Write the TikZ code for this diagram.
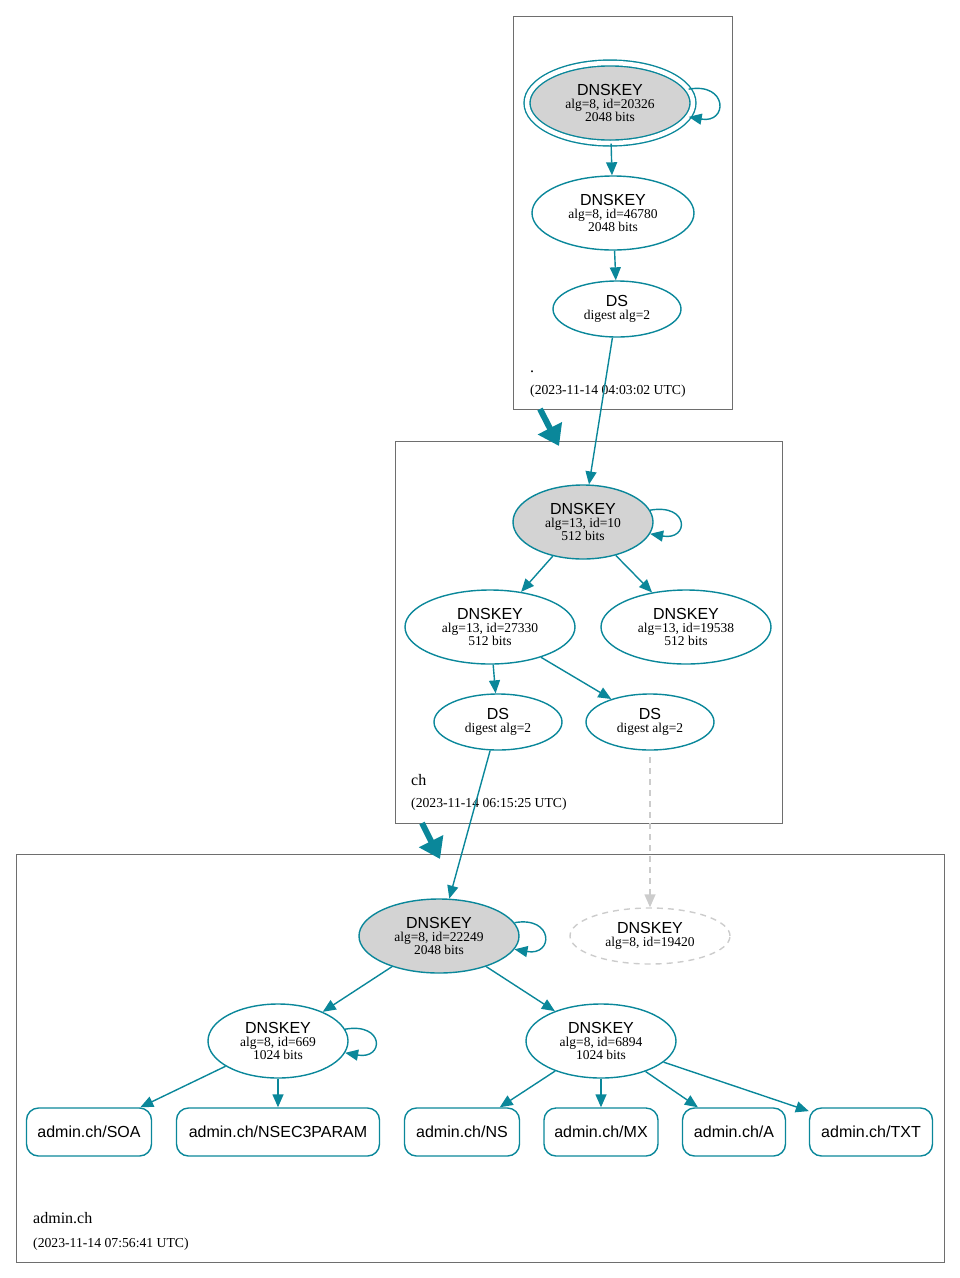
\documentclass[tikz,border=0pt]{standalone}
\usepackage{fontspec}
\setmainfont{Liberation Serif}
\setsansfont{Liberation Sans}
\usetikzlibrary{arrows.meta,shapes.geometric}

\definecolor{dnsteal}{HTML}{0A879A}
\definecolor{keyfill}{HTML}{D3D3D3}
\definecolor{zonegray}{HTML}{6E6E6E}
\definecolor{stalegray}{HTML}{CCCCCC}

\newcommand{\keylabel}[2]{{\sffamily\fontsize{16}{13}\selectfont DNSKEY}\\#1\\#2}
\newcommand{\dslabel}{{\sffamily\fontsize{16}{13}\selectfont DS}\\digest alg=2}

\tikzset{
  key/.style={ellipse, draw=dnsteal, line width=1.4pt, inner sep=0pt,
    align=center, font=\fontsize{13.5}{13}\selectfont},
  ksk/.style={key, fill=keyfill},
  rrset/.style={rectangle, rounded corners=12pt, draw=dnsteal, line width=1.4pt,
    minimum height=48pt, inner xsep=10pt, font=\sffamily\fontsize{16}{16}\selectfont},
  zone/.style={draw=zonegray, line width=0.9pt},
  zonename/.style={anchor=base west, inner sep=0pt, font=\fontsize{16}{16}\selectfont},
  zonedate/.style={anchor=base west, inner sep=0pt, font=\fontsize{13.7}{14}\selectfont},
  keyloop/.style={out=10, in=-10, min distance=40pt},
  stale/.style={draw=stalegray, dashed, dash pattern=on 6pt off 5pt},
  delegation/.style={color=dnsteal, line width=6pt, -{Triangle[length=20pt,width=26pt]}}
}

\begin{document}
\begin{tikzpicture}[x=1pt, y=-1pt, >={Triangle[length=13pt,width=11pt]}]
\useasboundingbox (0,0) rectangle (960,1278);

% zone boxes
\draw[zone] (513,16) rectangle (732,409);
\draw[zone] (395,441) rectangle (782,823);
\draw[zone] (16,854) rectangle (944,1262);

\node[zonename] (rootname) at (530,372) {.};
\node[zonedate] (rootdate) at (530,394) {(2023-11-14 04:03:02 UTC)};
\node[zonename] (chname) at (411,785) {ch};
\node[zonedate] (chdate) at (411,807) {(2023-11-14 06:15:25 UTC)};
\node[zonename] (adminname) at (33,1223) {admin.ch};
\node[zonedate] (admindate) at (33,1247) {(2023-11-14 07:56:41 UTC)};

% root
\node[ksk, double=white, double distance=4.5pt, minimum width=166pt, minimum height=80pt]
  (k20326) at (610,103) {\keylabel{alg=8, id=20326}{2048 bits}};
\node[key, minimum width=162pt, minimum height=74pt] (k46780) at (613,213) {\keylabel{alg=8, id=46780}{2048 bits}};
\node[key, minimum width=128pt, minimum height=56pt] (dsroot) at (617,309) {\dslabel};

% ch
\node[ksk, minimum width=140pt, minimum height=74pt] (k10) at (583,522) {\keylabel{alg=13, id=10}{512 bits}};
\node[key, minimum width=170pt, minimum height=74pt] (k27330) at (490,627) {\keylabel{alg=13, id=27330}{512 bits}};
\node[key, minimum width=170pt, minimum height=74pt] (k19538) at (686,627) {\keylabel{alg=13, id=19538}{512 bits}};
\node[key, minimum width=128pt, minimum height=56pt] (dsa) at (498,722) {\dslabel};
\node[key, minimum width=128pt, minimum height=56pt] (dsb) at (650,722) {\dslabel};

% admin.ch
\node[ksk, minimum width=160pt, minimum height=74pt] (k22249) at (439,936) {\keylabel{alg=8, id=22249}{2048 bits}};
\node[key, stale, line width=1.4pt, minimum width=160pt, minimum height=56pt] (k19420) at (650,936)
  {{\sffamily\fontsize{16}{13}\selectfont DNSKEY}\\alg=8, id=19420};
\node[key, minimum width=140pt, minimum height=74pt] (k669) at (278,1041) {\keylabel{alg=8, id=669}{1024 bits}};
\node[key, minimum width=150pt, minimum height=74pt] (k6894) at (601,1041) {\keylabel{alg=8, id=6894}{1024 bits}};

\node[rrset, minimum width=125pt] (soa) at (89,1132) {admin.ch/SOA};
\node[rrset, minimum width=203pt] (nsec3param) at (278,1132) {admin.ch/NSEC3PARAM};
\node[rrset, minimum width=115pt] (ns) at (462,1132) {admin.ch/NS};
\node[rrset, minimum width=114pt] (mx) at (601,1132) {admin.ch/MX};
\node[rrset, minimum width=103pt] (a) at (734,1132) {admin.ch/A};
\node[rrset, minimum width=123pt] (txt) at (871,1132) {admin.ch/TXT};

% delegations
\coordinate (rootout) at (540,409);
\coordinate (chin) at (559,446);
\coordinate (chout) at (422,823);
\coordinate (adminin) at (440,859);
\draw[delegation] (rootout) -- (chin);
\draw[delegation] (chout) -- (adminin);

\path[->, color=dnsteal, line width=1.4pt]
(k20326) edge[keyloop] (k20326)
(k20326) edge (k46780)
(k46780) edge (dsroot)
(dsroot) edge (k10)
(k10) edge[keyloop] (k10)
(k10) edge (k27330)
(k10) edge (k19538)
(k27330) edge (dsa)
(k27330) edge (dsb)
(dsa) edge (k22249)
(k22249) edge[keyloop] (k22249)
(k22249) edge (k669)
(k22249) edge (k6894)
(k669) edge[keyloop] (k669)
(k669) edge (soa)
(k669) edge (nsec3param)
(k6894) edge (ns)
(k6894) edge (mx)
(k6894) edge (a)
(k6894) edge (txt);
\draw[->, stale, color=stalegray, line width=1.4pt] (dsb.south |- 0,757) -- (k19420);
\end{tikzpicture}
\end{document}
